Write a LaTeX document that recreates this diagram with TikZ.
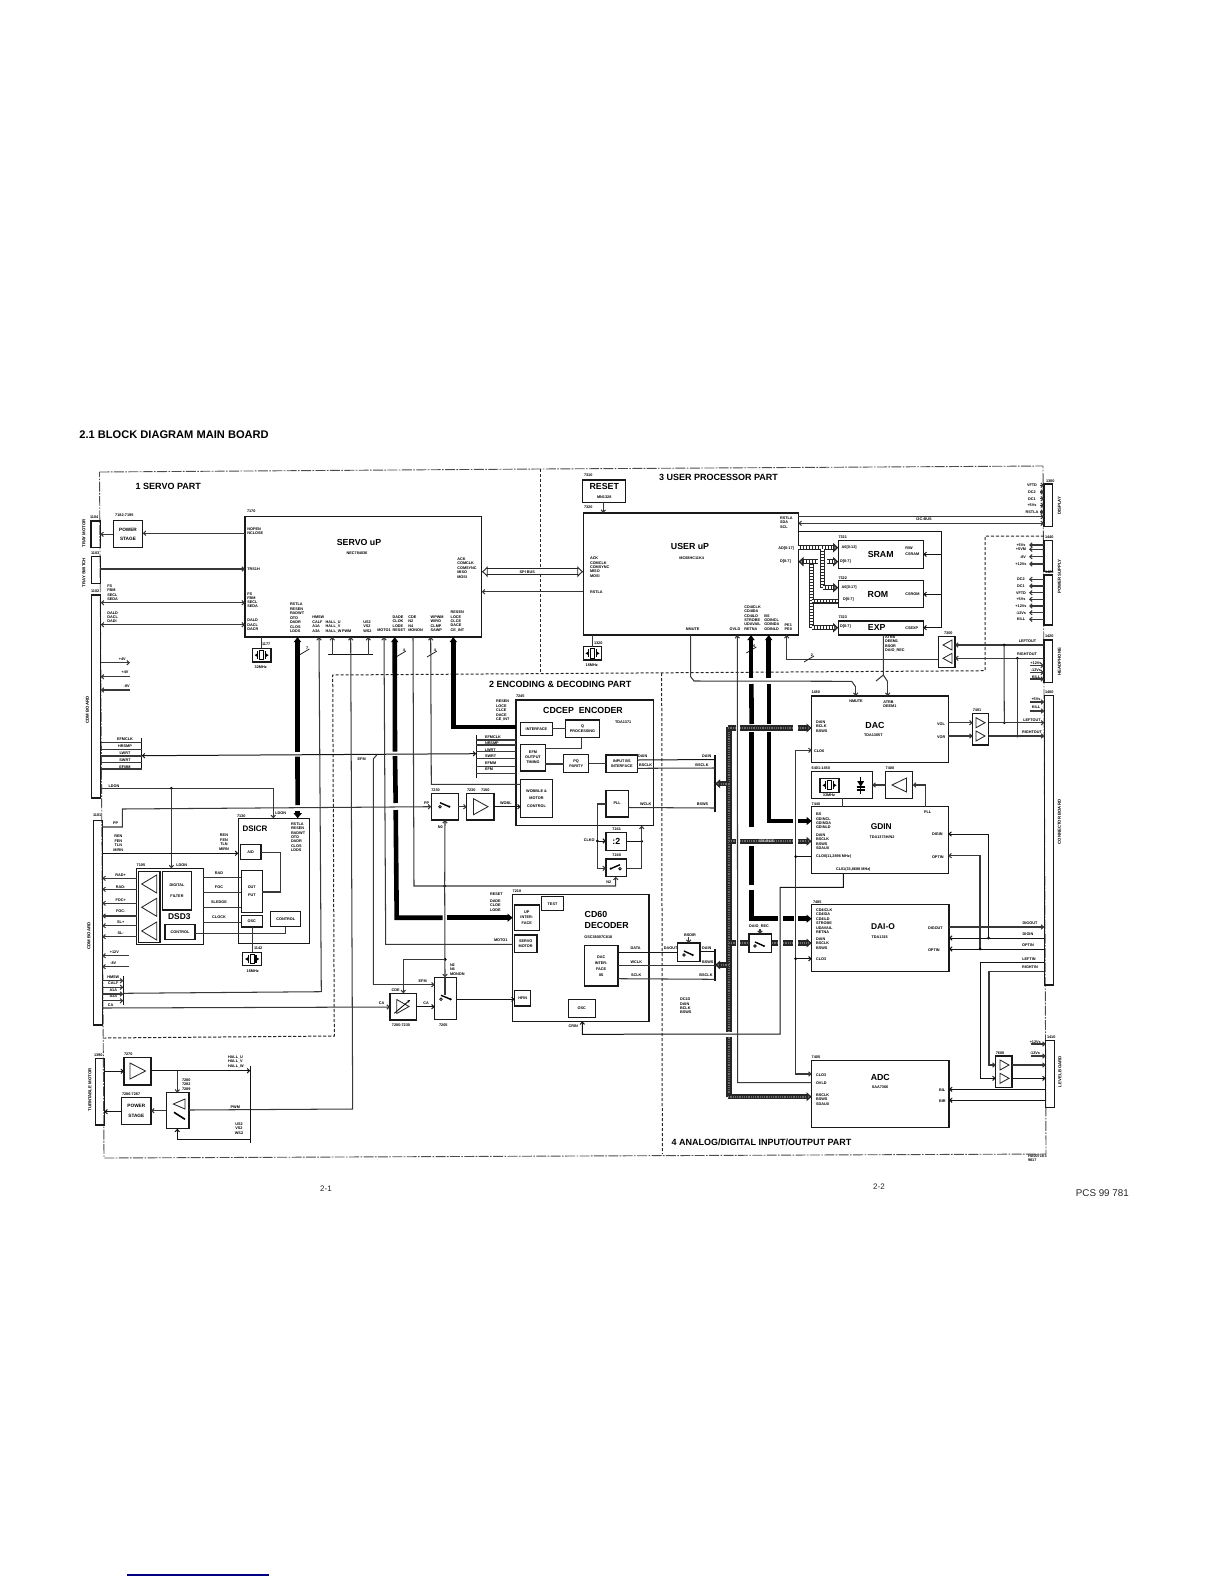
\documentclass[tikz,border=0pt]{standalone}
\usepackage{fontspec}
\setmainfont{Liberation Sans}
\usetikzlibrary{arrows.meta}
\newcounter{lc}
\newcommand\smallf{\fontsize{1.9}{2.2}\selectfont\bfseries}
\tikzset{
  >={Straight Barb[length=1.2pt,width=2.2pt]},
  lb/.style={inner sep=0,outer sep=0,font=\smallf,text=black},
  rotlb/.style={inner sep=0,outer sep=0,font=\fontsize{2.15}{2.5}\selectfont\bfseries,rotate=90,text=black},
  bx/.style={draw=black!90,line width=.62pt,inner sep=0,outer sep=0,align=center,font=\smallf,text=black},
  conbx/.style={bx,line width=.7pt},
  big/.style={inner sep=0,outer sep=0,font=\fontsize{4.4}{5}\selectfont\bfseries,text=black},
  head/.style={inner sep=0,outer sep=0,font=\fontsize{4.5}{5}\selectfont\bfseries,text=black,anchor=west},
  pwr/.style={font=\fontsize{2.35}{2.8}\selectfont\bfseries},
  ln/.style={draw=black!78,line width=.52pt},
  dk/.style={draw=black!92,line width=.5pt},
  thk/.style={draw=black,line width=2.3pt},
  thka/.style={thk,-{Triangle[length=2.6pt,width=4pt]}},
  thkb/.style={thk,{Triangle[length=2.6pt,width=3.6pt]}-},
  hb/.style={draw=black!85,line width=2.6pt,postaction={draw,-,black!58,line width=1pt,dash pattern=on .4pt off .5pt}},
  hba/.style={draw=black!85,line width=2.6pt,-{Triangle[length=2.6pt,width=4.4pt,fill=black!60]},postaction={draw,-,black!58,line width=1pt,dash pattern=on .4pt off .5pt,shorten >=2.6pt}},
  ac/.style={draw=black!85,line width=2.5pt,postaction={draw,-,white,line width=1.3pt,dash pattern=on .9pt off .6pt}},
  aca/.style={draw=black!85,line width=2.5pt,-{Triangle[length=2.6pt,width=4.6pt,fill=black!50]},postaction={draw,-,white,line width=1.3pt,dash pattern=on .9pt off .6pt,shorten >=2.6pt}},
  ddot/.style={draw=black!70,line width=.45pt,dash pattern=on 5pt off .7pt on .8pt off .7pt},
  dsh/.style={draw=black!85,line width=.5pt,dash pattern=on 1.6pt off .9pt},
}
\newcommand\mybox[7][]{\pgfmathsetmacro\mw{(#5-#3)*0.5}\pgfmathsetmacro\mh{(#6-#4)*0.5}%
  \node[bx,minimum width=\mw pt,minimum height=\mh pt,#1] (#2) at ({(#3+#5)/2},{(#4+#6)/2}) {#7};}
\newcommand\mylab[4][west]{\stepcounter{lc}\node[lb,anchor=#1] (t\arabic{lc}) at (#2,#3) {#4};}
\newcommand\myml[5][west]{\foreach \tx [count=\ii from 0] in {#5} {\stepcounter{lc}\node[lb,anchor=#1] (t\arabic{lc}) at (#2,{#3+\ii*#4}) {\tx};}}
\newcommand\mytri[4]{\draw[line width=.42pt,black!85] (#1,#3) -- (#2,{#3-#4}) -- (#2,{#3+#4}) -- cycle;}
\newcommand\mydot[2]{\fill[black] (#1,#2) circle[radius=.75pt];}
\newcommand\mysw[3]{\draw[line width=.42pt,black!90] (#1,#3) circle[radius=.65pt];\draw[line width=.7pt,black] (#1,{#3-4}) -- (#2,#3);\fill[black] (#2,#3) circle[radius=.6pt];}
\newcommand\myslash[4]{\draw[line width=.4pt,black!85] ({#1-5},{#2+3}) -- ({#1+5},{#2-3});\stepcounter{lc}\node[lb] (t\arabic{lc}) at ({#1+3},{#2-4}) {#3};}
\newcommand\myxt[5]{\mybox{#1}{#2}{#3}{#4}{#5}{}%
  \pgfmathsetmacro\cx{(#2+#4)/2}\pgfmathsetmacro\cy{(#3+#5)/2}%
  \draw[line width=.42pt,fill=white] ({\cx-1.8},{\cy-4.6}) rectangle ({\cx+1.8},{\cy+4.6});
  \draw[line width=.55pt] ({\cx-3.8},{\cy-4}) -- ({\cx-3.8},{\cy+4}) ({\cx+3.8},{\cy-4}) -- ({\cx+3.8},{\cy+4});
  \fill ({\cx-7},\cy) -- ({\cx-4.2},{\cy-1.8}) -- ({\cx-4.2},{\cy+1.8}) -- cycle;
  \fill ({\cx+7},\cy) -- ({\cx+4.2},{\cy-1.8}) -- ({\cx+4.2},{\cy+1.8}) -- cycle;}
\begin{document}
\begin{tikzpicture}[x=0.5pt,y=-0.5pt]
\useasboundingbox (0,0) rectangle (1224,1584);
% ---------- part frames
\draw[ddot] (99.5,472)--(540,469)--(1043,466)--(1046,1154)--(104,1158)--cycle;
\draw[dsh] (540,469)--(540,672);
\draw[dsh] (1044,536)--(985,536)--(985,670.7)--(332.7,675)--(334.3,1036)--(104.3,1038);
\draw[dsh] (661.7,673)--(662.3,1154);
% ---------- page texts
\node[inner sep=0,font=\fontsize{5.55}{6}\selectfont\bfseries,anchor=west,text=black] (title) at (79,434.5) {2.1 BLOCK DIAGRAM MAIN BOARD};
\node[head] (p1) at (135.7,486) {1 SERVO PART};
\node[head] (p3) at (659,477.7) {3 USER PROCESSOR PART};
\node[head] (p2) at (489,684) {2 ENCODING \& DECODING PART};
\node[head] (p4) at (671.7,1142.5) {4 ANALOG/DIGITAL INPUT/OUTPUT PART};
\node[inner sep=0,font=\fontsize{4}{5}\selectfont,text=black!85] (pg1) at (326,1189) {2-1};
\node[inner sep=0,font=\fontsize{4}{5}\selectfont,text=black!85] (pg2) at (879,1187) {2-2};
\node[inner sep=0,font=\fontsize{4.9}{5}\selectfont,text=black!85,anchor=west] (pcs) at (1075.5,1193.5) {PCS 99 781};
\myml{1028}{1156}{4.6}{HA00718\,3,9817}
\draw[line width=.65pt,blue!50!black] (127,1575) -- (269,1575);
% ---------- connector boards
\mybox[conbx]{c1104}{91}{521}{100.3}{547.7}{}
\mybox[conbx]{c1103}{91.3}{556.7}{100.3}{583.3}{}
\mybox[conbx]{c1102}{91.7}{595}{100.7}{798}{}
\mybox[conbx]{c1101}{93.3}{820.7}{102.3}{1025}{}
\mybox[conbx]{c1390}{95.3}{1058.3}{104.3}{1125}{}
\mybox[conbx]{c1300}{1044}{484}{1052.7}{526.7}{}
\mybox[conbx]{c1440}{1044}{540.7}{1052.7}{571.7}{}
\mybox[conbx]{c1420}{1044}{575}{1052.7}{625}{}
\mybox[conbx]{cHP}{1044}{640}{1052.7}{682.3}{}
\mybox[conbx]{c1400}{1044.3}{695.7}{1053.3}{985}{}
\mybox[conbx]{c1410}{1045.7}{1040.3}{1054.3}{1107.3}{}
\node[rotlb] (r1) at (84,533.3) {TRAY MOTOR};
\node[rotlb] (r2) at (84,572.7) {TRAY SWITCH};
\node[rotlb] (r3) at (87.3,710) {CDM BOARD};
\node[rotlb] (r4) at (89,936) {CDM BOARD};
\node[rotlb] (r5) at (90,1090) {TURNTABLE MOTOR};
\node[rotlb] (r6) at (1059.3,505.7) {DISPLAY};
\node[rotlb] (r7) at (1059.3,576.7) {POWER SUPPLY};
\node[rotlb] (r8) at (1059.3,661.7) {HEADPHONE};
\node[rotlb] (r9) at (1059.3,822) {CONNECTOR BOARD};
\node[rotlb] (r10) at (1060,1071.7) {LEVEL BOARD};
\mylab{90}{517.3}{1104}\mylab{91}{552.7}{1103}\mylab{91}{590.7}{1102}\mylab{93}{814.7}{1101}\mylab{94}{1054.7}{1390}
\mylab{1046}{480.7}{1300}\mylab{1045}{536.7}{1440}\mylab{1045}{572}{1420}\mylab{1045}{636}{1420}\mylab{1045}{692}{1400}\mylab{1047}{1036.7}{1410}
% ---------- main blocks
\mybox[pwr]{ps1}{113.3}{520.7}{142.7}{547.7}{POWER\\[1.9pt]STAGE}
\mylab[center]{124.3}{515}{7182-7195}
\mybox{srv}{245}{516.3}{481.7}{637}{}
\mylab{247}{511.3}{7170}
\node[big] (tsrv) at (359,542.7) {SERVO uP};
\mylab[center]{357}{553}{NEC784036}
\mybox[font=\fontsize{4.4}{5}\selectfont\bfseries]{rst}{582.7}{480}{625.7}{502.3}{\rule{0pt}{1.6pt}RESET\\[-.6pt]\smallf MN1328}
\mylab{584}{475.3}{7310}\mylab{584}{507.3}{7320}
\mybox{usr}{583.3}{513}{798.3}{635}{}
\node[big] (tusr) at (690,546) {USER uP};
\mylab[center]{691.7}{558.3}{MC68HC11K4}
\myxt{xt1}{252.3}{648.3}{271}{662}
\mylab{262}{644.3}{1177}\mylab[center]{260.7}{666.7}{32MHz}
\myxt{xt2}{583.3}{646.7}{601.7}{660}
\mylab{594}{642.7}{1320}\mylab[center]{591.7}{665}{16MHz}
% memories
\mybox{sram}{838.3}{540.7}{923.3}{568.3}{}
\mybox{rom}{838.3}{580.7}{923.3}{607.7}{}
\mybox{exp}{838.3}{621}{923.3}{635}{}
\node[big] (tsram) at (880.7,554) {SRAM};
\node[big] (trom) at (878,594) {ROM};
\node[big] (texp) at (876.7,627.3) {EXP};
\mylab{838.5}{537.3}{7321}\mylab{838.5}{577.7}{7322}\mylab{838.5}{617.3}{7323}
\mylab{841.7}{547.7}{A0[0-12]}\mylab{840}{561.7}{D[0-7]}\mylab{905.3}{548}{R/W}\mylab{905.3}{554}{CSRAM}
\mylab{841.7}{587.7}{A0[0-17]}\mylab{843}{600}{D[0-7]}\mylab{905.3}{594}{CSROM}
\mylab{840}{626.7}{D[0-7]}\mylab{905.3}{628.3}{CSEXP}
% 7300
\mybox{b7300}{938.3}{636.7}{955}{667.3}{}
\mytri{943}{952}{645}{5}\mytri{943}{952}{658.3}{5}
\mylab[center]{948.3}{632.7}{7300}
% DAC etc
\mybox{dac}{811.7}{696}{948.3}{762.7}{}
\mylab{811.5}{692.5}{1480}
\node[big] (tdac) at (875,725) {DAC};
\mylab[center]{873.3}{735}{TDA1305T}
\mylab[center]{856}{701.7}{NMUTE}\myml{883.3}{701.7}{4.4}{ATRB,DEEM1}
\myml{816}{722.3}{4.2}{DAIN,BCLK,BSWS}\mylab{814}{750.7}{CLO0}
\mylab{937}{723.7}{VOL}\mylab{937}{736.7}{VOR}
\mybox{b7401}{972.7}{713.3}{988.7}{745}{}
\mytri{985}{976}{722.7}{5}\mytri{985}{976}{736}{5}
\mylab[center]{977}{710}{7401}
\mybox{xtb}{811.7}{771.7}{872.3}{798.3}{}
\mylab{811.7}{768.3}{6401-1450}
\myxt{xt3}{820}{778.3}{839}{792.3}
\mylab[center]{829}{795}{33MHz}
\draw[line width=.5pt,black] (860.7,776.7) -- (860.7,794);
\fill (857.2,781) -- (864.2,781) -- (860.7,786.7) -- cycle;
\draw[line width=.6pt,black] (856.5,786.9) -- (864.9,786.9) (856.5,790) -- (864.9,790);
\mybox{b7400}{885.7}{771.7}{912.7}{798.3}{}
\mytri{892}{906.5}{785}{7}
\mylab{885.7}{768}{7400}
\mybox{gdin}{811.7}{806.7}{948.3}{873.7}{}
\mylab{811.7}{803.7}{7440}
\node[big,font=\fontsize{4.2}{5}\selectfont\bfseries] (tgdin) at (881.3,826.7) {GDIN};
\mylab[center]{882}{836.7}{TDA1373H/N2}
\myml{816}{814.3}{4.4}{BS,GDINCL,GDINDA,GDINLD}\myml{816}{835}{4.4}{DAIN,BSCLK,BSWS,SDAUX}
\mylab{816}{857}{CLO0(11,2896 MHz)}\mylab{836}{870}{CL01(33,8688 MHz)}
\mylab{924}{812}{PLL}\mylab{932}{834.3}{DIGIN}\mylab{932}{856.7}{OPTIN}
\mybox{dai}{811.7}{904.7}{949}{971.7}{}
\mylab{813}{901.7}{7485}
\node[big,font=\fontsize{4.2}{5}\selectfont\bfseries] (tdai) at (883,926.7) {DAI-O};
\mylab[center]{879.7}{936.7}{TDA1315}
\myml{816}{910}{4.45}{CD4ICLK,CD4IDA,CD4ILD,STROBE,UDAVAIL,RETNA}\myml{816}{939}{4.5}{DAIN,BSCLK,BSWS}\mylab{816}{959}{CLO3}
\mylab{928}{927.7}{DIGOUT}\mylab{928}{950}{OPTIN}
\mybox{adc}{811.7}{1060.7}{949}{1127.3}{}
\mylab{811.7}{1057}{7405}
\node[big] (tadc) at (880.3,1077.7) {ADC};
\mylab[center]{880}{1087.3}{SAA7366}
\mylab{816}{1074.7}{CLO3}\mylab{816}{1083.3}{OVLD}\myml{816}{1094.7}{4.5}{BSCLK,BSWS,SDAUX}
\mylab{939}{1090}{BIL}\mylab{939}{1100.7}{BIR}
\mybox{b7600}{995.7}{1056}{1012}{1087.3}{}
\mytri{1009}{1000}{1065}{5}\mytri{1009}{1000}{1078.3}{5}
\mylab[center]{1000}{1052.7}{7600}
\mybox{swdir}{677.3}{943}{700}{961.3}{}
\mysw{684}{692.7}{955}
\mylab[center]{690}{935}{BSDIR}
\mybox{swrec}{749}{934}{771.7}{952.3}{}
\mysw{755}{764}{946}
\mylab[center]{759}{926}{DAIO\_REC}
\myml{680}{999.3}{4.4}{DC1D,DAIN,BCLK,BSWS}
% Encoder
\mybox{enc}{516}{700}{653.3}{825.7}{}
\mylab{516}{696.5}{7245}
\node[big] (tenc) at (583,710) {CDCEP\;\;ENCODER};
\mylab{615}{722.5}{TDA1371}
\mybox{eifc}{520.7}{722.3}{552.3}{735.7}{INTERFACE}
\mybox{eq}{565.7}{720}{599.3}{737.7}{Q\\[.6pt]PROCESSING}
\mybox{eefm}{520.7}{744.3}{545.3}{771}{EFM\\[.3pt]OUTPUT\\[.3pt]TIMING}
\mybox{epq}{563.7}{754.7}{588.7}{772.3}{PQ\\[.3pt]PARITY}
\mybox{ein}{606}{755}{637.7}{772.7}{INPUT BS\\[.6pt]INTERFACE}
\mybox{ewob}{520.7}{779.7}{552.3}{817.3}{WOBBLE \&\\[1.5pt]MOTOR\\[1.5pt]CONTROL}
\mybox{epll}{606}{790.3}{628.3}{817}{PLL}
\myml{496}{701.5}{4.4}{RESEN,LOCE,CLCE,DACE,CE\_INT}
\myml{485}{736.7}{6.5}{EFMCLK,NRSMP,LWRT,SWRT,EFMM,EFM}
\mylab{638}{756.5}{DAIN}\mylab{639}{765}{BSCLK}\mylab{640}{804}{WCLK}
\mybox{sw30}{431.3}{793.3}{458.3}{820}{}
\mysw{440}{449.3}{806.7}
\mybox{am30}{466.7}{793.3}{494}{820}{}
\mytri{488}{473.5}{806.7}{8}
\mylab{431.3}{789.7}{7230}\mylab{467}{789.7}{7230}\mylab{481}{789.7}{7150}
\mylab[center]{440.3}{827}{N0}\mylab{424}{803.3}{PP}\mylab{500}{803}{WOBL}
\mybox[font=\fontsize{4.4}{5}\selectfont\bfseries]{div2}{606}{832.3}{626.7}{850.7}{:2}
\mybox{sw40}{606}{859}{626.7}{876.7}{}
\mysw{620}{610.7}{868.7}
\mylab[center]{616.7}{829}{7241}\mylab[center]{616.7}{855.3}{7240}
\mylab[center]{589.3}{840}{CLKO}\mylab[center]{608.7}{882}{N2}
% Decoder
\mybox{dec}{512.7}{894.3}{649}{1021.3}{}
\mylab{512.7}{891}{7210}
\node[big,anchor=west] (tdec1) at (584.7,914) {CD60};
\node[big,anchor=west] (tdec2) at (584.7,925) {DECODER};
\mylab[center]{598.3}{937.3}{GSC38007C818}
\mybox{dtest}{541.3}{896.7}{563.7}{910.7}{TEST}
\mybox{dup}{514.3}{905}{539.3}{930.3}{UP\\[.6pt]INTER-\\[.6pt]FACE}
\mybox{dsrv}{514.3}{935}{537}{952.7}{SERVO\\[.3pt]MOTOR}
\mybox{dhf}{514.7}{990.3}{530.7}{1006}{HFIN}
\mybox{ddac}{584.3}{945.7}{618}{986}{DAC\\[.8pt]INTER-\\[.8pt]FACE\\[.8pt]IIS}
\mybox{dosc}{568.3}{999.3}{595.3}{1017.3}{OSC}
\myml{490}{894}{6.5}{RESET}\myml{490}{901}{4.4}{DADE,CLOE,LODE}
\mylab{494}{940}{MOTO1}\mylab[center]{573.3}{1026}{CRIN}
\mylab[center]{635.7}{948.3}{DATA}\mylab[center]{636.3}{961.7}{WCLK}\mylab[center]{636.3}{975}{SCLK}
\mylab[center]{670.7}{948.3}{DAOUT}\mylab[center]{706.7}{948.3}{DAIN}\mylab[center]{707.7}{961.7}{BSWS}\mylab[center]{706}{975}{BSCLK}
\mylab[center]{706.7}{755.7}{DAIN}\mylab[center]{702}{764.7}{BSCLK}\mylab[center]{702.5}{804}{BSWS}
\mybox{sw05}{434.7}{977.3}{456.7}{1019.3}{}
\mysw{441}{450.7}{999.3}
\mybox{amp}{390}{993.3}{416.7}{1020}{}
\mytri{409}{396.7}{1006.5}{7}
\draw[line width=.42pt,-{Stealth[length=1.4pt,width=1.3pt]}] (394.3,1013.3) -- (410,1000);
\mylab[center]{401}{1025}{7200-7230}\mylab[center]{443.3}{1025}{7205}
\mylab[center]{395.7}{990}{CDE}\mylab[center]{381.7}{1003}{CA}\mylab[center]{426}{1003}{CA}\mylab[center]{422.7}{980.7}{EFM}
\myml{450}{965}{4.4}{N2,N4,MONON}
% DSICR
\mybox{dsi}{238.3}{818.3}{309.3}{943.3}{}
\mylab{237}{815.7}{7130}
\node[big,font=\fontsize{4}{5}\selectfont\bfseries] (tdsi) at (255,829) {DSICR};
\myml{291}{824}{4.4}{RSTLA,RESEN,RADWT,OTD,DADR,CLOS,LDDS}
\mybox{dad}{240.3}{844.3}{261}{859.3}{A/D}
\mybox{dout}{241.3}{870.3}{262.3}{912.3}{OUT\\[1.5pt]PUT}
\mybox{dos}{241.3}{915.3}{262.3}{927}{OSC}
\mybox{dct}{270.7}{911.7}{300.7}{926.7}{CONTROL}
\myxt{xt4}{242.7}{952.3}{261.7}{965.7}
\mylab{254}{948.3}{1142}\mylab[center]{252.7}{970.7}{16MHz}
% DSD3
\mybox{dsd}{136.7}{868.3}{203.3}{944.3}{}
\mylab{136.7}{865}{7105}
\mybox{dsdt}{138.3}{871.7}{160}{942.3}{}
\mybox{dflt}{162.3}{871.7}{191.7}{910}{DIGITAL\\[3pt]FILTER}
\mybox{dsc}{165}{924.3}{195}{939.3}{CONTROL}
\node[big,font=\fontsize{4.2}{5}\selectfont\bfseries] (tdsd) at (179.3,916.7) {DSD3};
\mytri{141.7}{156.7}{884}{9}\mytri{141.7}{156.7}{907.3}{9}\mytri{141.7}{156.7}{931}{9}
\myml[center]{120.7}{875.3}{0}{RAD+}\mylab[center]{120.7}{886.7}{RAD-}\mylab[center]{120.7}{900}{FOC+}\mylab[center]{120.7}{911}{FOC-}\mylab[center]{120.7}{922.3}{SL+}\mylab[center]{120.7}{933.3}{SL-}
\mylab[center]{219}{873}{RAD}\mylab[center]{219}{887.3}{FOC}\mylab[center]{219}{902}{SLEDGE}\mylab[center]{219}{916.7}{CLOCK}
\myml[center]{118.3}{836.3}{4.5}{REN,FEN,TLN,MIRN}\myml[center]{224}{835.3}{4.6}{REN,FEN,TLN,MIRN}
\mylab[center]{114}{785.7}{LDON}\mylab[center]{280.7}{812.7}{LDON}\mylab[center]{181.7}{865}{LDON}\mylab[center]{115.7}{822.7}{PP}
\mylab[center]{114.3}{952}{+12V}\mylab[center]{113.3}{963.3}{-8V}
\myml[center]{113.3}{976.7}{6.6}{HMSW,CALF,A1A,A3A}\mylab[center]{110.7}{1005}{CA}
\myml[center]{125}{739}{7}{EFMCLK,HRSMP,LWRT,SWRT,EFMM}
\mylab[center]{361.7}{759}{EFM}
% Turntable
\mybox{a270}{124}{1057.7}{151}{1085}{}
\mytri{145.5}{130}{1071}{8}
\mylab{124}{1054.3}{7270}
\mybox{drv}{166.3}{1092.7}{189}{1128.7}{}
\mytri{173.3}{185}{1104}{5}
\draw[line width=.8pt] (174,1112.3) -- (185,1119.3);
\myml{182}{1080}{4.4}{7280,7282,7289}
\mybox[pwr]{ps2}{121.7}{1097.3}{151}{1124.3}{POWER\\[1.9pt]STAGE}
\mylab{122}{1094}{7286-7287}
\mylab[center]{235.3}{1106.7}{PWM}
\myml[center]{239}{1124}{4.5}{US2,VS2,WS2}\myml{228}{1057.3}{4.5}{HALL\_U,HALL\_V,HALL\_W}
% ---------- servo labels
\myml{247.3}{529.3}{4}{NOPEN,NCLOSE}\mylab{247.3}{569}{TRS1H}
\myml{247.3}{593.7}{4.3}{FS,FBM,SECL,SEDA}\myml{247.3}{620.3}{4.4}{DALD,DACL,DACR}
\myml{107.3}{586}{4.4}{FS,FBM,SECL,SEDA}\myml{107.3}{612.7}{4.4}{DALD,DACL,DADI}
\myml{290}{604.3}{4.5}{RSTLA,RESEN,RADWT,OTD,DADR,CLOS,LDDS}
\myml{312.3}{617.3}{4.6}{HMSW,CALF,A1A,A3A}\myml{325.7}{622}{4.6}{HALL\_U,HALL\_V,HALL\_W}
\mylab{342}{631.3}{PWM}\myml{363.3}{622}{4.6}{US2,VS2,WS2}\mylab{377.3}{630.3}{MOTO1}
\myml{392.7}{617}{4.5}{DADE,CLOK,LODE,RESET}\myml{408.3}{617}{4.5}{CDE,N2,N4,MONON}
\myml{430.7}{617}{4.5}{WPWM,WIRO,CLMP,SAWP}\myml{450.7}{612.3}{4.45}{RESEN,LOCE,CLCE,DACE,CE\_INT}
\myml{457.3}{559.3}{4.35}{ACK,COMCLK,COMSYNC,MISO,MOSI}
\myml{590}{558.3}{4.4}{ACK,COMCLK,COMSYNC,MISO,MOSI}\mylab{590}{592}{RSTLA}
\myml{780}{518}{4.35}{RSTLA,SDA,SCL}\mylab{778.3}{549}{AD[0-17]}\mylab{780}{561.7}{D[0-7]}
\mylab[center]{692.7}{629}{NMUTE}\mylab[center]{735}{629}{OVLD}
\myml{744.3}{607}{4.4}{CD4ICLK,CD4IDA,CD4ILD,STROBE,UDAVAIL,RETNA}
\myml{764.3}{615.7}{4.4}{BS,GDINCL,GDINDA,GDINLD}\myml{784.7}{624.7}{4.3}{PE1,PE0}
\myml{885}{637}{4.45}{ATRB,DEEM1,BSOR,DAIO\_REC}
\mylab[center]{924}{519}{I2C-BUS}
\mylab[center]{122.3}{659}{+4V}\mylab[center]{125}{672.3}{+4V}\mylab[center]{126.7}{685.7}{-8V}
\mylab[center]{1027.5}{641}{LEFTOUT}\mylab[center]{1027}{654.3}{RIGHTOUT}
\mylab[center]{1036}{663.3}{+12Vs}\mylab[center]{1036}{670}{-12Vs}\mylab[center]{1036}{676.7}{KILL}
\mylab[center]{1036}{699.3}{+5Vs}\mylab[center]{1036}{707}{KILL}
\mylab[center]{1032}{720}{LEFTOUT}\mylab[center]{1032}{732.3}{RIGHTOUT}
\mylab[center]{1030}{923}{DIGOUT}\mylab[center]{1028}{934}{DIGIN}\mylab[center]{1028}{945.3}{OPTIN}\mylab[center]{1029}{958.7}{LEFTIN}\mylab[center]{1030}{967.3}{RIGHTIN}
\mylab[center]{1035.3}{1041.7}{+12Vs}\mylab[center]{1035}{1052.7}{-12Vs}
\mylab[center]{1021}{545}{+5Vs}\mylab[center]{1021}{549.3}{+5VM}\mylab[center]{1023}{556.7}{-8V}\mylab[center]{1021}{564}{+12Vs}
\mylab[center]{1021}{579.3}{DC2}\mylab[center]{1021}{586}{DC1}\mylab[center]{1021}{592.7}{VFTD}\mylab[center]{1021}{599.3}{+5Vs}\mylab[center]{1021}{606}{+12Vs}\mylab[center]{1021}{612.7}{-12Vs}\mylab[center]{1021}{619.3}{KILL}
\mylab[center]{1032}{485.3}{VFTD}\mylab[center]{1032}{492}{DC2}\mylab[center]{1032}{498.7}{DC1}\mylab[center]{1032}{505.3}{+5Vs}\mylab[center]{1032}{512}{RSTLA}
% ---------- thin connectors: left side
\draw[ln,<-] (ps1.east|-0,533.3) -- (srv.west|-0,533.3);
\draw[ln,<-] (c1104.east|-0,534.3) -- (ps1.west|-0,534.3);
\draw[ln,->] (c1103.east|-0,569) -- (srv.west|-0,569);
\draw[ln,<->] (c1102.east|-0,602.7) -- (srv.west|-0,602.7);
\draw[ln,<->] (c1102.east|-0,624.7) -- (srv.west|-0,624.7);
\draw[ln,->] (c1102.east|-0,662.7) -- ++(29.3,0);
\draw[ln,<-] (c1102.east|-0,676.7) -- ++(29.3,0);
\draw[ln,<-] (c1102.east|-0,690) -- ++(29.3,0);
\draw[ln] (xt1.north-|261.3,0) -- (srv.south-|261.3,0);
\draw[ln] (xt2.north-|592.3,0) -- (usr.south-|592.3,0);
\draw[ln,->] (rst.south-|603.3,0) -- (usr.north-|603.3,0);
\coordinate (lbar1) at (141.7,737.7);\coordinate (lbar2) at (141.7,769.3);
\draw[dk,line width=.6pt] (lbar1) -- (lbar2);
\foreach \yy in {742.3,749.3,756,762.7,769} {\draw[ln] (c1102.east|-0,\yy) -- (lbar1|-0,\yy);}
\coordinate (rbar1) at (476.3,735);\coordinate (rbar2) at (476.3,777.7);
\draw[dk,line width=.6pt] (rbar1) -- (rbar2);
\foreach \yy in {740,745,751.7,758.3,766.7,773.3} {\draw[ln] (rbar1|-0,\yy) -- (enc.west|-0,\yy);}
\draw[dk,<->] (lbar1|-0,755.7) -- (rbar1|-0,753.7);
% LDON
\draw[ln,->] (c1102.east|-0,788.3) -- (273.3,788.3) -- (dsi.north-|273.3,0);
\mydot{171.4}{788.3}
\draw[ln,->] (171.4,788.3) -- (dsd.north-|171.4,0);
% PP
\draw[ln,->] (c1101.east|-0,827) -- (122.3,827) -- (122.3,809) -- (sw30.west|-0,806.7);
\draw[dk,->] (c1101.east|-0,853.3) -- (dsi.west|-0,853.3);
\foreach \yy in {878.3,889.3,903.3,916,925.7,936.7} {\draw[ln,<-] (c1101.east|-0,\yy) -- (dsd.west|-0,\yy);}
\draw[ln] (dsd.east|-0,877.3) -- (dout.west|-0,877.3);
\draw[ln] (dsd.east|-0,892.3) -- (dout.west|-0,892.3);
\draw[ln] (dsd.east|-0,907.3) -- (dout.west|-0,907.3);
\draw[ln] (dsd.east|-0,922.3) -- (dos.west|-0,922.3);
\draw[ln] (dad.east|-0,852.3) -- (280.7,852.3) -- (280.7,892) -- (dout.east|-0,892);
\draw[ln] (dsc.east|-0,933.3) -- (285.7,933.3) -- (dct.south-|285.7,0);
\draw[ln] (xt4.north-|252.3,0) -- (dos.south-|252.3,0);
\draw[ln,<-] (c1101.east|-0,955.7) -- ++(27,0);
\draw[ln,<-] (c1101.east|-0,966.7) -- ++(27,0);
\coordinate (lbar3) at (123.3,975.7);\coordinate (lbar4) at (123.3,1005);
\draw[dk,line width=.6pt] (lbar3) -- (lbar4);
\foreach \yy in {980.7,987.3,994,1000.7} {\draw[ln,->] (c1101.east|-0,\yy) -- (lbar3|-0,\yy);}
% CA
\draw[ln,->] (c1101.east|-0,1008) -- (amp.west|-0,1007);
\draw[dk,->] (amp.east|-0,1006.7) -- (sw05.west|-0,1006.7);
\draw[dk,->] (sw05.east|-0,999.3) -- (dhf.west|-0,999.3);
% servo bottom verticals
\draw[ln,<-] (srv.south-|319,0) -- (321.3,991.7) -- (lbar3|-0,993.3);
\coordinate (hbar1) at (327.7,654.7);\coordinate (hbar2) at (372.7,654.7);
\draw[dk,line width=.6pt] (hbar1) -- (hbar2);
\draw[ln,<-] (srv.south-|332.3,0) -- (hbar1-|332.3,0);
\draw[ln,<-] (srv.south-|368.3,0) -- (hbar1-|368.3,0);
\draw[ln,<-] (srv.south-|350.7,0) -- (352.7,1109) -- (drv.east|-0,1110);
\draw[ln,<-] (srv.south-|384,0) -- (385.7,944.3) -- (dec.west|-0,944.3);
\draw[ln,->] (srv.south-|413,0) -- (414,886) -- (615.7,886) -- (sw40.south-|615.7,0);
\mydot{444.7}{886}
\draw[ln,<-] (sw30.south-|445,0) -- (444.7,886);
\draw[ln,->] (444.7,886) -- (sw05.north-|445,0);
\draw[ln] (sw05.north-|445,0) -- (445,995);
\mydot{445.3}{959.3}
\draw[ln,->] (445.3,959.3) -- (403.3,959.3) -- (amp.north-|403.3,0);
\draw[ln,<-] (srv.south-|430.7,0) -- (431.3,784.3) -- (ewob.west|-0,784.3);
\draw[ln,->] (373.3,984.7) -- (sw05.west|-0,984.7);
\draw[ln] (373.3,984.7) -- (373.3,759) -- (376.7,755);
% turntable
\draw[dk,<-] (a270.west|-0,1071.3) -- (c1390.east|-0,1071.3);
\coordinate (tbar1) at (250.3,1066);\coordinate (tbar2) at (250.3,1143.3);
\draw[dk,line width=.6pt] (tbar1) -- (tbar2);
\draw[dk,->] (a270.east|-0,1070.7) -- (tbar1|-0,1070.7);
\draw[ln,->] (177.3,1070.7) -- (drv.north-|177.3,0);
\draw[ln,->] (drv.west|-0,1110.7) -- (ps2.east|-0,1110.7);
\draw[dk,->] (ps2.west|-0,1111.7) -- (c1390.east|-0,1111.7);
\draw[dk,<-] (drv.south-|177.3,0) -- (177.3,1139.3) -- (tbar1|-0,1139.3);
% encoder internals
\draw[ln] (eifc.east|-0,728.7) -- (eq.west|-0,728.7);
\draw[ln] (eq.south-|581.7,0) -- (581.7,748.3) -- (eefm.east|-0,748.3);
\draw[ln] (eefm.east|-0,764) -- (epq.west|-0,764);
\draw[ln] (epq.east|-0,763.7) -- (ein.west|-0,763.7);
\coordinate (dbar1) at (715,755);\coordinate (dbar2) at (715,812.3);
\draw[dk,line width=.6pt] (dbar1) -- (dbar2);
\draw[dk] (ein.east|-0,760) -- (dbar1|-0,759.5);
\draw[ln] (ein.east|-0,768.3) -- (dbar1|-0,768);
\draw[ln] (epll.east|-0,807.5) -- (dbar1|-0,808);
\draw[ln,->] (sw30.east|-0,806.7) -- (am30.west|-0,806.7);
\draw[dk,->] (am30.east|-0,806.7) -- (ewob.west|-0,806.7);
\draw[ln] (epll.west|-0,804) -- (597.3,804) -- (597.3,868.3);
\draw[ln,->] (597.3,868.3) -- (sw40.west|-0,868.3);
\mydot{597.3}{841}
\draw[dk,->] (597.3,841) -- (div2.west|-0,841);
\draw[dk] (div2.east|-0,841.3) -- (641.7,841.3);
\mydot{641.7}{841.3}
\draw[ln,->] (sw40.east|-0,868.3) -- (641.7,868.3) -- (enc.south-|641.7,0);
% decoder outputs
\draw[dk] (ddac.east|-0,952.3) -- (swdir.west|-0,952.3);
\coordinate (dbar3) at (715,949.3);\coordinate (dbar4) at (715,981);
\draw[dk,line width=.6pt] (dbar3) -- (dbar4);
\draw[ln] (ddac.east|-0,965.7) -- (dbar3|-0,965.7);
\draw[ln] (ddac.east|-0,978.7) -- (dbar3|-0,979.3);
\draw[dk] (swdir.east|-0,951.7) -- (dbar3|-0,951.7);
\draw[ln,->] (swdir.north-|688.7,0) ++(0,-6) -- (swdir.north-|688.7,0);
\draw[ln,->] (swrec.north-|760,0) ++(0,-5) -- (swrec.north-|760,0);
% CL01 to decoder osc
\draw[dk,->] (gdin.south-|843.3,0) -- (843.3,887.3) -- (780,887.3) -- (780,1034) -- (582.3,1034.3) -- (dec.south-|582.3,0);
% user area
\draw[ln,<->] (usr.east|-0,523.3) -- (c1300.west|-0,523.3);
\draw[ln,->] (usr.east|-0,516.7) -- (c1300.west|-0,516.7);
\draw[dk] (usr.east|-0,531.7) -- (941,531.7) -- (941,627.7);
\draw[dk,->] (941,554.3) -- (sram.east|-0,554.3);
\draw[dk,->] (941,594.3) -- (rom.east|-0,594.3);
\draw[dk,->] (941,627.7) -- (exp.east|-0,627.7);
\draw[ln,<-] (usr.south-|737.3,0) -- (737.7,1082.7) -- (adc.west|-0,1082.7);
\draw[ln] (usr.south-|690.7,0) -- (690.7,676.7) -- (694,681) -- (851.7,681.3) -- (855.7,687);
\draw[ln,->] (855.7,687) -- (dac.north-|855.7,0);
\draw[ln] (exp.south-|883.3,0) -- (883.3,675) -- (887.7,681.7);
\draw[ln,->] (887.7,681.7) -- (dac.north-|887.7,0);
\draw[ln] (883.3,675) -- (876,681);
\draw[ln,<-] (usr.south-|786.7,0) -- (786.7,659.3) -- (b7300.west|-0,659.3);
\draw[ln,<-] (b7300.east|-0,645) -- (cHP.west|-0,645);
\draw[ln,<-] (b7300.east|-0,658.3) -- (cHP.west|-0,658.3);
\mydot{1004}{645}\mydot{1017.3}{658.3}\mydot{1004.3}{722.7}\mydot{1017.3}{736}
\draw[ln] (1004,645) -- (1004.3,722.7);
\draw[ln] (1017.3,658.3) -- (1017.3,736);
\draw[ln,->] (dac.east|-0,722.7) -- (b7401.west|-0,722.7);
\draw[ln,->] (dac.east|-0,736) -- (b7401.west|-0,736);
\draw[ln,->] (b7401.east|-0,722.7) -- (c1400.west|-0,722.7);
\draw[ln,->] (b7401.east|-0,736) -- (c1400.west|-0,736);
\draw[ln,<-] (c1400.west|-0,702) -- ++(-14,0);
\draw[ln,<-] (c1400.west|-0,711) -- ++(-14,0);
\foreach \yy in {485.3,492,498.7,505.3,512} {\draw[ln,<-] (c1300.west|-0,\yy) -- ++(-4,0);}
\foreach \yy in {545,549.3,556.7,564} {\draw[ln,->] (c1440.west|-0,\yy) -- ++(-15,0);}
\foreach \yy in {579.3,586,592.7,599.3,606,612.7,619.3} {\draw[ln,->] (c1420.west|-0,\yy) -- ++(-15,0);}
\foreach \yy in {665.5,672.5,679} {\draw[ln,<-] (cHP.west|-0,\yy) -- ++(-14,0);}
% gdin side
\draw[ln] (gdin.north-|925.7,0) -- (925.7,785);
\draw[ln,->] (925.7,785) -- (b7400.east|-0,785);
\draw[ln,->] (b7400.west|-0,785) -- (xtb.east|-0,785);
\draw[ln] (xtb.south-|842.7,0) -- (gdin.north-|842.7,0);
\draw[dk,<-] (gdin.east|-0,834) -- (988.7,834) -- (988.7,938);
\draw[ln,<-] (gdin.east|-0,855.7) -- (980,855.7) -- (980,949);
\mydot{988.7}{938}\mydot{980}{949}
\draw[ln,->] (dai.east|-0,927) -- (c1400.west|-0,927);
\draw[dk,<-] (dai.east|-0,938) -- (c1400.west|-0,938);
\draw[dk,<-] (dai.east|-0,949) -- (c1400.west|-0,949);
% clock line
\draw[ln,<->] (dac.west|-0,750.3) -- (795.7,750.3) -- (795.7,1074) -- (adc.west|-0,1074);
\mydot{795.7}{856.7}\mydot{795.7}{958.7}
\draw[dk] (795.7,856.7) -- (gdin.west|-0,856.7);
\draw[dk,->] (795.7,958.7) -- (dai.west|-0,958.7);
% level / inputs
\draw[dk,->] (c1400.west|-0,962.3) -- (980.3,962.3) -- (980.3,1078.3) -- (b7600.west|-0,1078.3);
\draw[ln,->] (c1400.west|-0,971.3) -- (989,971.3) -- (989,1065) -- (b7600.west|-0,1065);
\draw[ln,->] (b7600.east|-0,1065) -- (c1410.west|-0,1065);
\draw[dk,->] (b7600.east|-0,1078.3) -- (c1410.west|-0,1078.3);
\draw[dk,<-] (adc.east|-0,1089.3) -- (c1410.west|-0,1089.3);
\draw[dk,<-] (adc.east|-0,1100.3) -- (c1410.west|-0,1100.3);
\draw[ln,->] (c1410.west|-0,1044) ++(-15,0) -- (c1410.west|-0,1044);
\draw[ln,->] (c1410.west|-0,1056) ++(-15,0) -- (c1410.west|-0,1056);
% SPI and RSTLA
\draw[draw=black!85,line width=.45pt,double=white,double distance=2.6pt,{Latex[open,length=3pt,width=6pt]}-{Latex[open,length=3pt,width=6pt]}] (srv.east|-0,571.7) -- (usr.west|-0,571.7);
\node[lb,fill=white,inner sep=.2pt] (tspib) at (527.3,571.7) {SPI BUS};
\draw[ln,<-] (srv.east|-0,591.7) -- (usr.west|-0,591.7);
% slashes
\myslash{304.3}{652}{7}\myslash{319.5}{662}{4}\myslash{401}{654}{4}\myslash{414}{654}{4}\myslash{432}{654}{4}\myslash{459}{654}{5}
\myslash{751.3}{650}{6}\myslash{768.7}{650}{4}\myslash{809}{659}{2}\myslash{820}{522.5}{2}
% ---------- thick buses
\draw[thkb] (srv.south-|297.5,0) -- (297.5,752);
\draw[thk] (297.5,756.7) -- (297.6,805);
\draw[thka] (297.7,810.7) -- (dsi.north-|297.7,0);
\draw[thkb] (srv.south-|394.7,0) -- (395,751.7);
\draw[thk] (395,756) -- (395.7,803);
\draw[thk] (395.7,810) -- (396.7,917.7) -- (442.7,917.7);
\draw[thka] (447.3,917.7) -- (dec.west|-0,917.7);
\draw[thkb] (srv.south-|453.3,0) -- (453.3,727) -- (enc.west|-0,727);
\draw[thkb] (usr.south-|751,0) -- (751,678);
\draw[thk] (751.3,684) -- (751.7,724);
\draw[thk] (751.7,732.3) -- (751.7,826.7);
\draw[thk] (751.7,845.7) -- (751.7,885);
\draw[thk] (751.7,890) -- (751.7,918.7) -- (778.3,918.7);
\draw[thk] (782.7,918.7) -- (794,918.7);
\draw[thka] (798.3,918.7) -- (dai.west|-0,918.7);
\draw[thkb] (usr.south-|768.7,0) -- (768.7,678);
\draw[thk] (769,684) -- (769,724);
\draw[thk] (769,732.3) -- (769,821) -- (793.3,821);
\draw[thka] (798.3,821) -- (gdin.west|-0,821);
% ---------- I2S hatched bus
\draw[hb] (729,726.7) -- (729,1032);
\draw[hb] (729,1036.5) -- (729,1096.7);
\draw[hb] (727.7,728) -- (736,728);
\draw[hb] (740,728) -- (793,728);
\draw[hba] (798,728) -- (dac.west|-0,728);
\draw[hb] (729,841.3) -- (736,841.3);
\draw[hb] (740,841.3) -- (793,841.3);
\draw[hba] (798,841.3) -- (gdin.west|-0,841.3);
\node[inner sep=.2pt,font=\fontsize{1.9}{2.2}\selectfont\bfseries,text=white!85!black] (ti2s) at (766.7,841.3) {I2S-BUS};
\draw[hb] (729,943) -- (736,943);
\draw[hb] (740,943) -- (swrec.west|-0,943);
\draw[hb] (swrec.east|-0,943) -- (778.3,943);
\draw[hb] (782.7,943) -- (793.3,943);
\draw[hba] (798.3,943) -- (dai.west|-0,943);
\draw[hba] (727.7,1096.7) -- (adc.west|-0,1096.7);
\draw[hba] (729,783.7) -- (dbar1|-0,783.7);
\draw[hba] (729,965) -- (dbar1|-0,965);
% ---------- memory buses
\draw[ac] (usr.east|-0,547.7) -- (820,547.7);
\draw[aca] (820,547.7) -- (sram.west|-0,547.7);
\draw[ac] (822.7,549) -- (822.7,587.7);
\draw[aca] (822.7,587.7) -- (rom.west|-0,587.7);
\draw[ac] (811.7,561.7) -- (811.7,627.7);
\draw[aca] (804,561.7) -- (usr.east|-0,561.7);
\draw[ac] (804,561.7) -- (818,561.7);
\draw[aca] (827,561.7) -- (sram.west|-0,561.7);
\draw[ac] (811.7,601) -- (rom.west|-0,601);
\draw[aca] (811.7,627.7) -- (exp.west|-0,627.7);
\end{tikzpicture}
\end{document}
